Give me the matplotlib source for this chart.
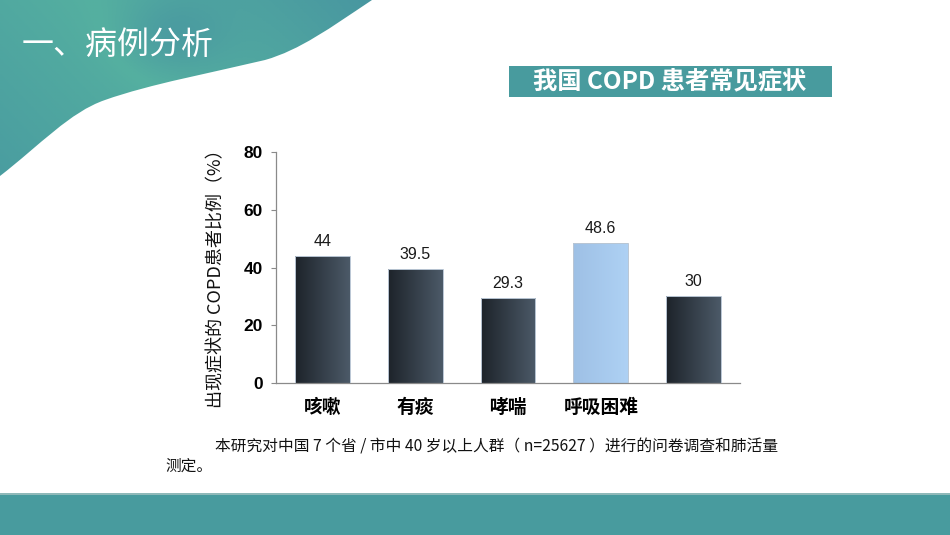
import numpy as np
import matplotlib
matplotlib.use("Agg")
import matplotlib.pyplot as plt
from matplotlib.colors import LinearSegmentedColormap
from matplotlib.path import Path
from matplotlib.patches import PathPatch, Rectangle

# ---------------- data ----------------
categories = ["咳嗽", "有痰", "哮喘", "呼吸困难", ""]
values = [44, 39.5, 29.3, 48.6, 30]
value_labels = ["44", "39.5", "29.3", "48.6", "30"]
highlight = [False, False, False, True, False]
yticks = [0, 20, 40, 60, 80]

page_title = "一、病例分析"
chart_title = "我国 COPD 患者常见症状"
y_label = "出现症状的 COPD患者比例（%）"
note_line1 = "本研究对中国 7 个省 / 市中 40 岁以上人群（ n=25627 ）进行的问卷调查和肺活量"
note_line2 = "测定。"

CJK = ["Noto Sans CJK SC", "DejaVu Sans"]
LAT = ["Liberation Sans", "Noto Sans CJK SC", "DejaVu Sans"]
plt.rcParams["font.family"] = CJK

W, H = 950, 535
fig = plt.figure(figsize=(W / 100, H / 100), dpi=100)
fig.patch.set_facecolor("white")

def fx(x):
    return x / W

def fy(y):
    return 1 - y / H

# ---------------- background decoration ----------------
bg = fig.add_axes([0, 0, 1, 1], zorder=0)
bg.set_xlim(0, W)
bg.set_ylim(H, 0)
bg.axis("off")

verts = [(0, 0), (372, 0),
         (330, 28), (300, 50), (265, 60),
         (215, 72), (150, 84), (105, 100),
         (70, 112), (40, 145), (0, 176),
         (0, 0)]
codes = [Path.MOVETO, Path.LINETO,
         Path.CURVE4, Path.CURVE4, Path.CURVE4,
         Path.CURVE4, Path.CURVE4, Path.CURVE4,
         Path.CURVE4, Path.CURVE4, Path.CURVE4,
         Path.CLOSEPOLY]
wave = PathPatch(Path(verts, codes), facecolor="none", edgecolor="none")
bg.add_patch(wave)
gx = np.linspace(0, 1, 300)
gy = np.linspace(0, 1, 120)
GX, GY = np.meshgrid(gx, gy)
field = 0.55 * GX + 0.25 * (1 - GY) + 0.25 * np.exp(-((GX - 0.45) ** 2) / 0.02 - (GY - 0.2) ** 2 / 0.05)
wave_cmap = LinearSegmentedColormap.from_list("wave", ["#4a9da0", "#55b0a0", "#4896a0"])
im = bg.imshow(field, extent=(0, 380, 180, 0), cmap=wave_cmap, aspect="auto", zorder=1)
im.set_clip_path(wave)

# bottom band
bg.add_patch(Rectangle((0, 494), W, 41, facecolor="#489b9e", edgecolor="none", zorder=1))
bg.add_patch(Rectangle((0, 493), W, 1.5, facecolor="#8fb9b9", edgecolor="none", zorder=1))

# chart title box
bg.add_patch(Rectangle((509, 66), 323, 31, facecolor="#489b9e", edgecolor="none", zorder=1))

fig.text(fx(22), fy(45), page_title, color="white", fontsize=23, fontweight="light",
         ha="left", va="center", family=CJK)
fig.text(fx(670), fy(81), chart_title, color="white", fontsize=17.5, fontweight="bold",
         ha="center", va="center", family=CJK)

# ---------------- chart ----------------
ax = fig.add_axes([fx(276), fy(383), (740 - 276) / W, (383 - 152) / H], zorder=2)
ax.patch.set_alpha(0)
x = np.arange(len(categories))
bars = ax.bar(x, values, width=0.59, facecolor="none", edgecolor="#b9c6d4", linewidth=0.7, zorder=3)

dark_cmap = LinearSegmentedColormap.from_list("dark", ["#1d232a", "#4c5a68"])
light_cmap = LinearSegmentedColormap.from_list("light", ["#9ec0e5", "#aed1f4"])
grad = np.linspace(0, 1, 256).reshape(1, -1)
for p, hl in zip(bars, highlight):
    x0, y0, w, h = p.get_x(), p.get_y(), p.get_width(), p.get_height()
    gim = ax.imshow(grad, extent=(x0, x0 + w, y0, y0 + h), cmap=light_cmap if hl else dark_cmap,
                    aspect="auto", zorder=2)
    gim.set_clip_path(p)

for p, lab in zip(bars, value_labels):
    ax.annotate(lab, (p.get_x() + p.get_width() / 2, p.get_height()), xytext=(0, 5),
                textcoords="offset points", ha="center", va="bottom", fontsize=11.5,
                color="#1a1a1a", family=LAT)

ax.set_xlim(-0.5, len(categories) - 0.5)
ax.set_ylim(0, 80)
ax.set_yticks(yticks)
ax.set_yticklabels([str(t) for t in yticks], fontsize=12.5, fontweight="bold", family=LAT)
ax.set_xticks(x)
ax.set_xticklabels(categories, fontsize=13.5, fontweight="bold", family=CJK)
ax.tick_params(axis="y", length=3.3, width=0.8, color="#8a8a8a", pad=6)
ax.tick_params(axis="x", length=0, pad=11)
for s in ["top", "right"]:
    ax.spines[s].set_visible(False)
for s in ["left", "bottom"]:
    ax.spines[s].set_color("#8a8a8a")
    ax.spines[s].set_linewidth(0.9)

fig.text(fx(216), fy(274), y_label, rotation=90, ha="center", va="center", fontsize=13,
         color="#111111", family=CJK)

# ---------------- note ----------------
fig.text(fx(215), fy(447), note_line1, ha="left", va="center", fontsize=11.3, color="#111111", family=CJK)
fig.text(fx(165), fy(466), note_line2, ha="left", va="center", fontsize=11.3, color="#111111", family=CJK)

fig.savefig("out.png", dpi=100)
